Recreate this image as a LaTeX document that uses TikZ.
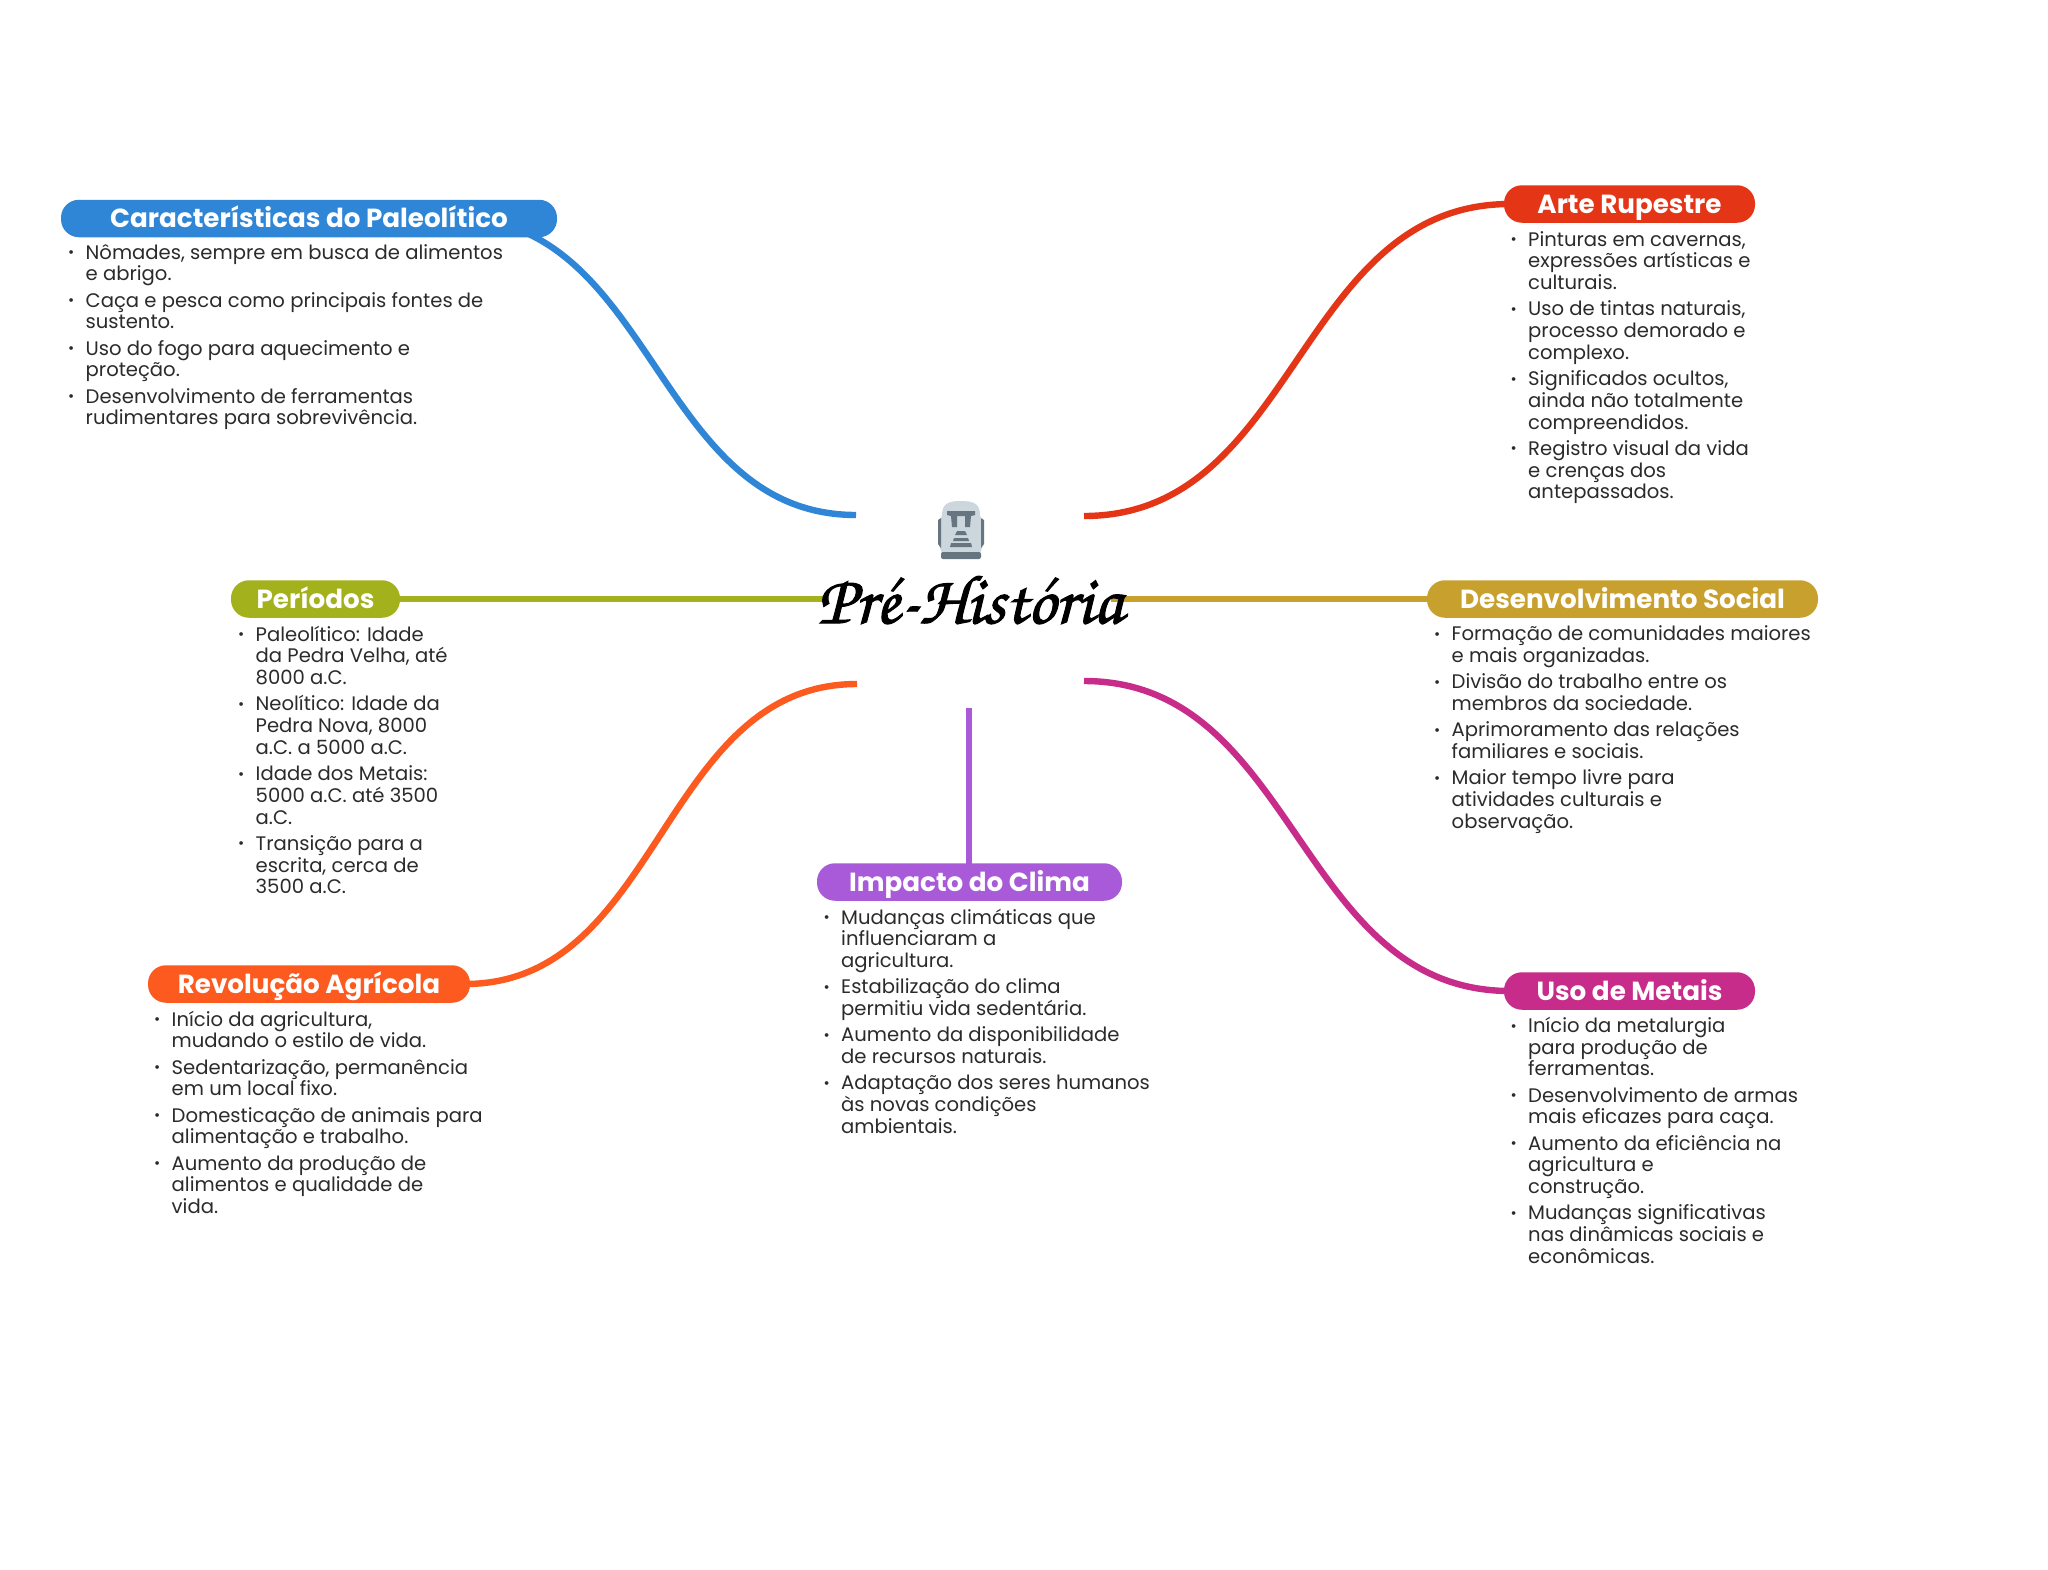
\documentclass[tikz,border=0pt]{standalone}
\usepackage{fontspec}
\setmainfont{Poppins}
\definecolor{cblue}{HTML}{2F85D6}
\definecolor{cred}{HTML}{E53517}
\definecolor{cgreen}{HTML}{A3B11C}
\definecolor{cgold}{HTML}{C8A02E}
\definecolor{corange}{HTML}{FC5A1E}
\definecolor{cpurple}{HTML}{A85AD8}
\definecolor{cmag}{HTML}{C72C8A}
\definecolor{ctext}{HTML}{2B2B2B}
\definecolor{mlight}{HTML}{CCD6DD}
\definecolor{mdark}{HTML}{66757F}
\newcommand{\itm}[1]{\rule{0pt}{15pt}\llap{\makebox[17.5pt][l]{\raisebox{1.5pt}{\fontsize{15}{15}\selectfont •}}}#1}
\newcommand{\nx}{\\[4.6pt]}
\tikzset{
  x=1pt,y=-1pt,
  pill/.style={rounded corners=18pt,minimum height=37.5pt,inner sep=0pt,text height=21pt,text depth=3pt,text=white,font=\fontsize{26.2}{30}\selectfont\bfseries},
  body/.style={anchor=north west,inner sep=0pt,align=left,text=ctext,font=\fontsize{19.6}{21.7}\selectfont},
  link/.style={line width=6.4pt,line cap=butt}
}
\begin{document}
\begin{tikzpicture}
\useasboundingbox (0,0) rectangle (2048,1569);
\fill[white] (0,0) rectangle (2048,1569);
% free ends at the central topic
\coordinate (eBlue) at (856,515);
\coordinate (eRed) at (1084,516);
\coordinate (eGreen) at (826,599);
\coordinate (eGold) at (1111,599);
\coordinate (eOrange) at (857,684);
\coordinate (eMag) at (1084,681);
\coordinate (ePurple) at (969,708);
% pills positions (drawn later on top): coordinates for connectors
\coordinate (sBlue) at (455,218);
\coordinate (sRed) at (1510,204);
\coordinate (sGreen) at (395,599);
\coordinate (sGold) at (1432,599);
\coordinate (sOrange) at (465,984);
\coordinate (sMag) at (1510,991);
\coordinate (sPurple) at (969,870);
\draw[link,cblue] (sBlue) .. controls (655,218) and (655,515) .. (eBlue);
\draw[link,cred] (sRed) .. controls (1297,204) and (1297,516) .. (eRed);
\draw[link,cgreen] (sGreen) -- (eGreen);
\draw[link,cgold] (sGold) -- (eGold);
\draw[link,corange] (sOrange) .. controls (661,984) and (661,684) .. (eOrange);
\draw[link,cmag] (sMag) .. controls (1297,991) and (1297,681) .. (eMag);
\draw[link,cpurple] (sPurple) -- (ePurple);
% pills
\node[pill,fill=cblue,minimum width=496pt] (h1) at (309,218.5) {Características do Paleolítico};
\node[pill,fill=cred,minimum width=251pt] (h2) at (1629.5,204) {Arte Rupestre};
\node[pill,fill=cgreen,minimum width=169pt] (h3) at (315.5,599) {Períodos};
\node[pill,fill=cgold,minimum width=391pt] (h4) at (1622.5,599) {Desenvolvimento Social};
\node[pill,fill=corange,minimum width=322pt] (h5) at (309,984) {Revolução Agrícola};
\node[pill,fill=cpurple,minimum width=305pt] (h6) at (969.5,882) {Impacto do Clima};
\node[pill,fill=cmag,minimum width=251pt] (h7) at (1629.5,991) {Uso de Metais};
% bodies
\node[body] (b1) at (85.5,244) {\itm{Nômades, sempre em busca de alimentos}\\e abrigo.\nx
\itm{Caça e pesca como principais fontes de}\\sustento.\nx
\itm{Uso do fogo para aquecimento e}\\proteção.\nx
\itm{Desenvolvimento de ferramentas}\\rudimentares para sobrevivência.};
\node[body] (b2) at (1528,231) {\itm{Pinturas em cavernas,}\\expressões artísticas e\\culturais.\nx
\itm{Uso de tintas naturais,}\\processo demorado e\\complexo.\nx
\itm{Significados ocultos,}\\ainda não totalmente\\compreendidos.\nx
\itm{Registro visual da vida}\\e crenças dos\\antepassados.};
\node[body] (b3) at (255.5,625.7) {\itm{Paleolítico: Idade}\\da Pedra Velha, até\\8000 a.C.\nx
\itm{Neolítico: Idade da}\\Pedra Nova, 8000\\a.C. a 5000 a.C.\nx
\itm{Idade dos Metais:}\\5000 a.C. até 3500\\a.C.\nx
\itm{Transição para a}\\escrita, cerca de\\3500 a.C.};
\node[body] (b4) at (1451.5,625.7) {\itm{Formação de comunidades maiores}\\e mais organizadas.\nx
\itm{Divisão do trabalho entre os}\\membros da sociedade.\nx
\itm{Aprimoramento das relações}\\familiares e sociais.\nx
\itm{Maior tempo livre para}\\atividades culturais e\\observação.};
\node[body] (b5) at (171.5,1010.7) {\itm{Início da agricultura,}\\mudando o estilo de vida.\nx
\itm{Sedentarização, permanência}\\em um local fixo.\nx
\itm{Domesticação de animais para}\\alimentação e trabalho.\nx
\itm{Aumento da produção de}\\alimentos e qualidade de\\vida.};
\node[body] (b6) at (841,908.7) {\itm{Mudanças climáticas que}\\influenciaram a\\agricultura.\nx
\itm{Estabilização do clima}\\permitiu vida sedentária.\nx
\itm{Aumento da disponibilidade}\\de recursos naturais.\nx
\itm{Adaptação dos seres humanos}\\às novas condições\\ambientais.};
\node[body] (b7) at (1528,1017) {\itm{Início da metalurgia}\\para produção de\\ferramentas.\nx
\itm{Desenvolvimento de armas}\\mais eficazes para caça.\nx
\itm{Aumento da eficiência na}\\agricultura e\\construção.\nx
\itm{Mudanças significativas}\\nas dinâmicas sociais e\\econômicas.};
% moai
\fill[mlight] (942,515) .. controls (942,504) and (948,501) .. (961,501) .. controls (974,501) and (980,504) .. (980,515) -- (983,525) -- (983,545) -- (979,556) -- (943,556) -- (939,545) -- (939,525) -- cycle;
\fill[mdark] (938,520) -- (941,518) -- (941,548) -- (938,544) -- cycle;
\fill[mdark] (984,520) -- (981,518) -- (981,548) -- (984,544) -- cycle;
\fill[mdark] (947,511) -- (975,511) -- (975,515) -- (971,516) -- (970,527) -- (965,527) -- (965,516) -- (957,516) -- (957,527) -- (952,527) -- (951,516) -- (947,515) -- cycle;
\fill[mdark] (957,531) -- (965,531) -- (967,535) -- (955,535) -- cycle;
\fill[mdark] (954,538) -- (968,538) -- (969,541) -- (953,541) -- cycle;
\fill[mdark] (951,543) -- (971,543) -- (972,547) -- (950,547) -- cycle;
\fill[mdark,rounded corners=2pt] (941,552) -- (981,552) -- (981,559) -- (941,559) -- cycle;
% title
\node[inner sep=0pt,text=black] (title) at (970,599) {\fontencoding{T1}\fontfamily{pzc}\fontseries{mb}\fontshape{it}\fontsize{69.5}{75}\selectfont\special{pdf:code 2 Tr 1.1 w}Pr\'e-Hist\'oria\special{pdf:code 0 Tr 0 w}};
\end{tikzpicture}
\end{document}
